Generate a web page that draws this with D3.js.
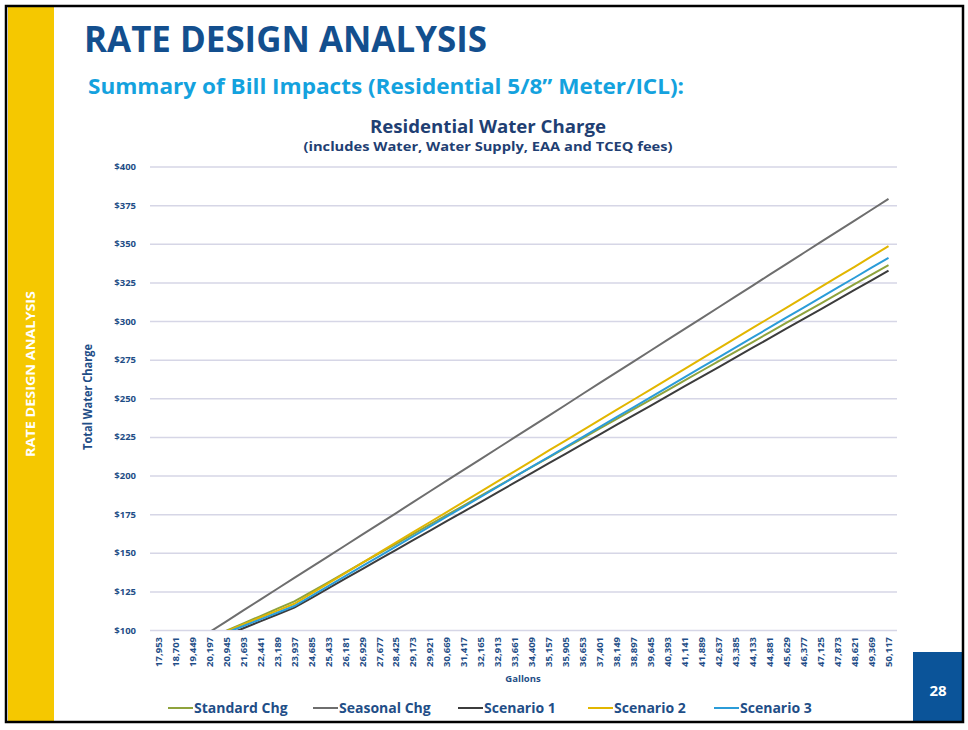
<!DOCTYPE html>
<html><head><meta charset="utf-8">
<script src="https://cdn.jsdelivr.net/npm/d3@7/dist/d3.min.js"></script>
<style>html,body{margin:0;padding:0;background:#fff;}svg{display:block;}</style>
</head><body>
<svg id="c" width="968" height="730"></svg>
<script>
const gallons = [17953,18701,19449,20197,20945,21693,22441,23189,23937,24685,25433,26181,26929,27677,28425,29173,29921,30669,31417,32165,32913,33661,34409,35157,35905,36653,37401,38149,38897,39645,40393,41141,41889,42637,43385,44133,44881,45629,46377,47125,47873,48621,49369,50117];
const standardChg = [80.6,85.3,90.0,94.8,99.5,104.3,109.0,113.8,118.5,124.7,130.9,137.2,143.4,149.6,155.8,162.0,168.3,174.5,180.7,186.9,193.1,199.4,205.6,211.8,218.0,224.2,230.5,236.7,242.9,249.1,255.3,261.5,267.8,274.0,280.2,286.4,292.7,298.9,305.1,311.3,317.5,323.8,330.0,336.2];
const seasonalChg = [77.6,84.6,91.6,98.6,105.6,112.7,119.7,126.7,133.7,140.7,147.7,154.7,161.7,168.7,175.7,182.8,189.8,196.8,203.8,210.8,217.8,224.8,231.8,238.8,245.8,252.9,259.9,266.9,273.9,280.9,287.9,294.9,301.9,308.9,315.9,322.9,330.0,337.0,344.0,351.0,358.0,365.0,372.0,379.0];
const scenario1 = [78.9,83.3,87.8,92.2,96.7,101.1,105.6,110.0,114.5,120.7,127.0,133.2,139.4,145.7,151.9,158.1,164.3,170.6,176.8,183.0,189.3,195.5,201.7,208.0,214.2,220.4,226.6,232.9,239.1,245.3,251.5,257.8,264.0,270.2,276.5,282.7,288.9,295.2,301.4,307.6,313.8,320.1,326.3,332.6];
const scenario2 = [81.1,85.6,90.1,94.6,99.1,103.6,108.1,112.5,117.0,123.6,130.2,136.8,143.4,150.1,156.7,163.3,169.9,176.5,183.1,189.7,196.3,202.9,209.5,216.2,222.8,229.4,236.0,242.6,249.2,255.8,262.4,269.0,275.6,282.3,288.9,295.5,302.1,308.7,315.3,321.9,328.5,335.1,341.8,348.4];
const scenario3 = [81.1,85.4,89.7,94.0,98.3,102.6,106.9,111.2,115.5,121.9,128.4,134.8,141.3,147.7,154.1,160.6,167.0,173.5,179.9,186.3,192.8,199.2,205.7,212.1,218.5,225.0,231.4,237.9,244.3,250.7,257.2,263.6,270.1,276.5,282.9,289.4,295.8,302.3,308.7,315.1,321.6,328.0,334.5,340.9];
const seriesNames = ["Standard Chg","Seasonal Chg","Scenario 1","Scenario 2","Scenario 3"];
const seriesColors = ["#8fa33c","#6e6e6e","#3c3c3c","#e2b600","#2b9cd8"];
const yTicks = [100,125,150,175,200,225,250,275,300,325,350,375,400];

const seriesData = [standardChg, seasonalChg, scenario1, scenario2, scenario3];
const svg = d3.select("#c");
const fmt = d3.format(",");
const FONT = "Open Sans, sans-serif";

// page frame
svg.append("rect").attr("x",0).attr("y",0).attr("width",968).attr("height",730).attr("fill","#fff");
svg.append("rect").attr("x",8).attr("y",7).attr("width",46).attr("height",714).attr("fill","#f5c800");
svg.append("rect").attr("x",913).attr("y",652).attr("width",50).attr("height",70).attr("fill","#0b5499");
svg.append("rect").attr("x",6).attr("y",6).attr("width",957).attr("height",716)
  .attr("fill","none").attr("stroke","#000").attr("stroke-width",2.5);
svg.append("text").attr("x",938).attr("y",696).attr("text-anchor","middle")
  .attr("font-family",FONT).attr("font-weight",700).attr("font-size",15)
  .attr("fill","#fff").text("28");
svg.append("text").attr("transform","translate(35,374) rotate(-90)").attr("text-anchor","middle")
  .attr("font-family",FONT).attr("font-weight",700).attr("font-size",12)
  .attr("fill","#fff").attr("textLength",166).attr("lengthAdjust","spacingAndGlyphs").text("RATE DESIGN ANALYSIS");

svg.append("text").attr("x",84).attr("y",52)
  .attr("font-family",FONT).attr("font-weight",700).attr("font-size",35)
  .attr("fill","#134f8e").attr("textLength",403).attr("lengthAdjust","spacingAndGlyphs").text("RATE DESIGN ANALYSIS");
svg.append("text").attr("x",88).attr("y",94)
  .attr("font-family",FONT).attr("font-weight",700).attr("font-size",22)
  .attr("fill","#14a2de").attr("textLength",596).attr("lengthAdjust","spacingAndGlyphs").text("Summary of Bill Impacts (Residential 5/8\u201D Meter/ICL):");

// chart titles
svg.append("text").attr("x",488).attr("y",133).attr("text-anchor","middle")
  .attr("font-family",FONT).attr("font-weight",700).attr("font-size",17.5)
  .attr("fill","#1f3f73").attr("textLength",236).attr("lengthAdjust","spacingAndGlyphs").text("Residential Water Charge");
svg.append("text").attr("x",488).attr("y",151).attr("text-anchor","middle")
  .attr("font-family",FONT).attr("font-weight",700).attr("font-size",13)
  .attr("fill","#1f3f73").attr("textLength",369).attr("lengthAdjust","spacingAndGlyphs").text("(includes Water, Water Supply, EAA and TCEQ fees)");

const m = {l:150, r:897, t:166.5, b:630};
const x = d3.scaleBand().domain(gallons).range([m.l, m.r]);
const y = d3.scaleLinear().domain([100,400]).range([m.b, m.t]);

// grid
const gy = svg.append("g").attr("transform",`translate(${m.l},0)`)
  .call(d3.axisLeft(y).tickValues(yTicks).tickSize(-(m.r-m.l)).tickPadding(14).tickFormat(d=>"$"+d));
gy.select(".domain").remove();
gy.selectAll(".tick line").attr("stroke","#d6d6e6").attr("stroke-width",1.5);
gy.selectAll(".tick text").attr("font-family",FONT).attr("font-weight",700)
  .attr("font-size",9.5).attr("fill","#1f4e87");

const gx = svg.append("g").attr("transform",`translate(0,${m.b})`)
  .call(d3.axisBottom(x).tickSize(0).tickFormat(d=>fmt(d)));
gx.select(".domain").remove();
gx.selectAll(".tick text").attr("font-family",FONT).attr("font-weight",700)
  .attr("font-size",9.5).attr("fill","#1f4e87")
  .attr("transform","rotate(-90)").attr("text-anchor","end").attr("dx","-7").attr("dy","0.35em").attr("y",0);

svg.append("text").attr("x",523).attr("y",682).attr("text-anchor","middle")
  .attr("font-family",FONT).attr("font-weight",700).attr("font-size",9.5)
  .attr("fill","#1f4e87").text("Gallons");
svg.append("text").attr("transform","translate(92,397) rotate(-90)").attr("text-anchor","middle")
  .attr("font-family",FONT).attr("font-weight",700).attr("font-size",13)
  .attr("fill","#1f4e87").attr("textLength",106).attr("lengthAdjust","spacingAndGlyphs").text("Total Water Charge");

// clip
svg.append("clipPath").attr("id","clip").append("rect")
  .attr("x",m.l).attr("y",m.t-10).attr("width",m.r-m.l).attr("height",m.b-m.t+10);

const line = d3.line().x((d,i)=>x(gallons[i])+x.bandwidth()/2).y(d=>y(d));
const lg = svg.append("g").attr("clip-path","url(#clip)");
seriesData.forEach((s,k)=>{
  lg.append("path").datum(s).attr("d",line).attr("fill","none")
    .attr("stroke",seriesColors[k]).attr("stroke-width",2);
});

// legend
const legX = [168,313,458,588,714];
seriesNames.forEach((n,k)=>{
  svg.append("line").attr("x1",legX[k]).attr("x2",legX[k]+25).attr("y1",708).attr("y2",708)
    .attr("stroke",seriesColors[k]).attr("stroke-width",2);
  svg.append("text").attr("x",legX[k]+26).attr("y",713)
    .attr("font-family",FONT).attr("font-weight",700).attr("font-size",14)
    .attr("fill","#1f4e87").text(n);
});
</script>
</body></html>
